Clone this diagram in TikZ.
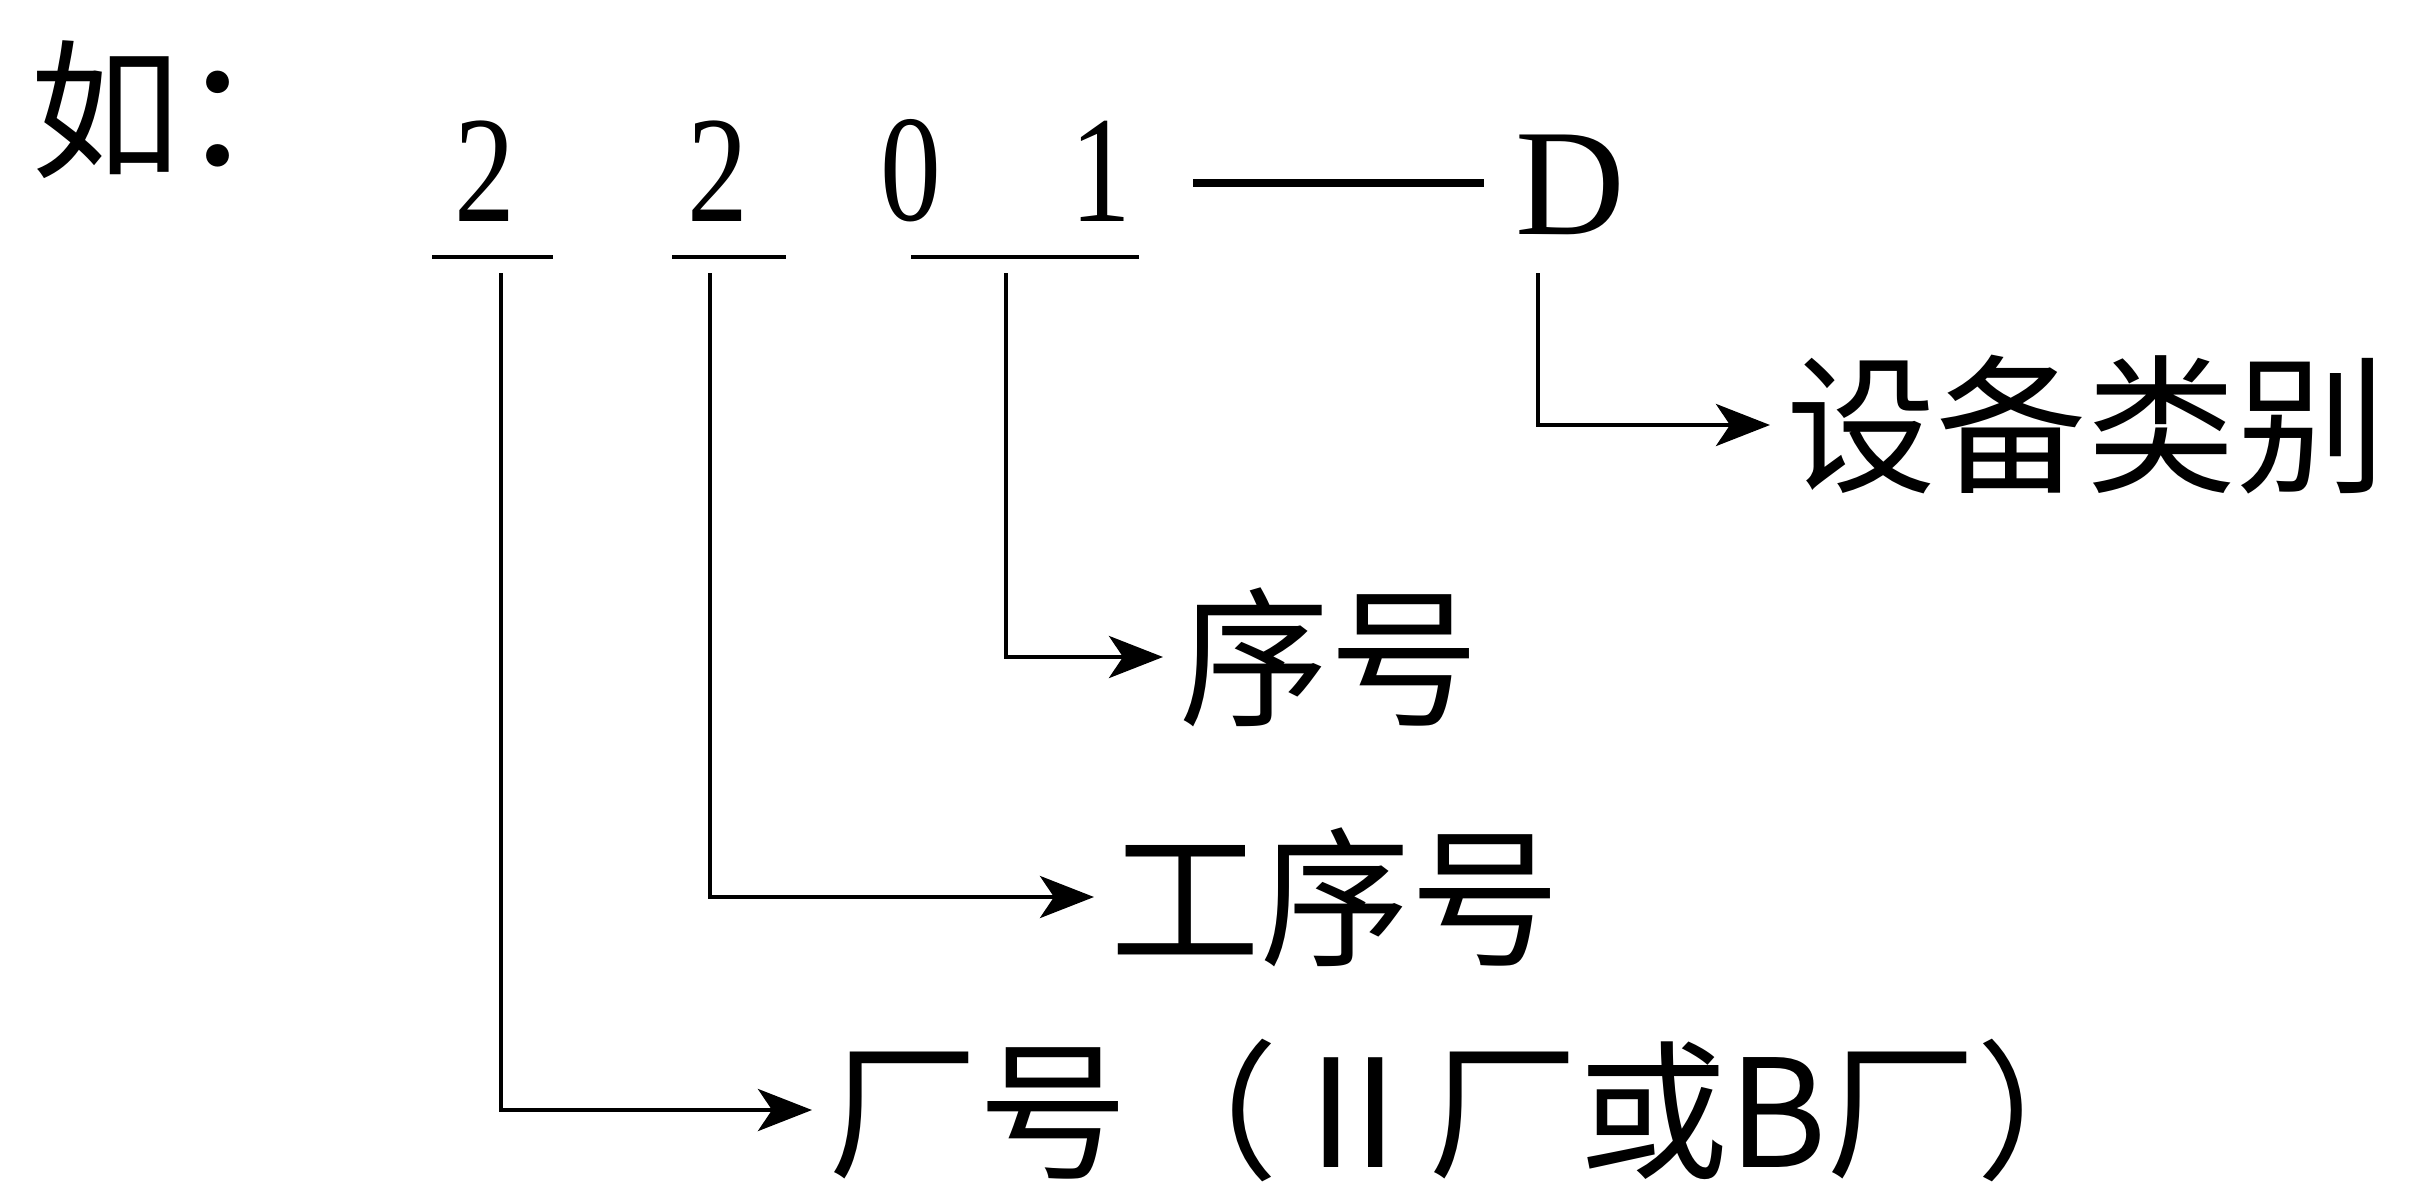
\documentclass[tikz,border=0pt]{standalone}
\usepackage{fontspec}
\setmainfont{Liberation Serif}
\newfontfamily\cjk{Noto Sans CJK SC}
\usetikzlibrary{arrows.meta}
\newcommand\narrowdig[1]{\scalebox{0.8}[1]{#1}}
\begin{document}
\begin{tikzpicture}[x=0.5pt,y=-0.5pt,
  cjktext/.style={font=\cjk\fontsize{75pt}{80pt}\selectfont, inner sep=0pt, inner xsep=8pt, anchor=west},
  digit/.style={font=\fontsize{76pt}{80pt}\selectfont, inner sep=0pt},
  uline/.style={line width=2pt},
  dashline/.style={line width=3.8pt},
  arr/.style={line width=2.3pt, -{Stealth[length=27pt,width=21pt,inset=7pt]}}]
\useasboundingbox (0,0) rectangle (2410,1184);
\fill[white] (0,0) rectangle (2410,1184);

% header
\node[cjktext, inner xsep=0pt] (ru) at (30,110) {如：};
\node[digit] (d1) at (485,171) {\narrowdig{2}};
\node[digit] (d2) at (718,171) {\narrowdig{2}};
\node[digit] (d3) at (911,171) {\narrowdig{0}};
\node[digit] (d4) at (1101,171) {\narrowdig{1}};
\node[digit] (dD) at (1570,185) {D};

% dash between 1 and D
\coordinate (dashA) at (1193,183);
\coordinate (dashB) at (1484,183);
\draw[dashline] (dashA) -- (dashB);

% underlines
\coordinate (u1a) at (432,257); \coordinate (u1b) at (553,257);
\coordinate (u2a) at (672,257); \coordinate (u2b) at (786,257);
\coordinate (u3a) at (911,257); \coordinate (u3b) at (1139,257);
\draw[uline] (u1a) -- (u1b);
\draw[uline] (u2a) -- (u2b);
\draw[uline] (u3a) -- (u3b);

% labels
\node[cjktext] (sb) at (1770,425) {设备类别};
\node[cjktext] (xh) at (1163,657) {序号};
\node[cjktext] (gx) at (1094,897) {工序号};
\node[cjktext] (fac) at (812,1110) {厂号（Ⅱ厂或B厂）};

% connectors
\coordinate (v1) at (501,273);
\coordinate (v2) at (710,273);
\coordinate (v3) at (1006,273);
\coordinate (v4) at (1538,273);
\draw[arr] (v1) |- (fac.west);
\draw[arr] (v2) |- (gx.west);
\draw[arr] (v3) |- (xh.west);
\draw[arr] (v4) |- (sb.west);
\end{tikzpicture}
\end{document}
